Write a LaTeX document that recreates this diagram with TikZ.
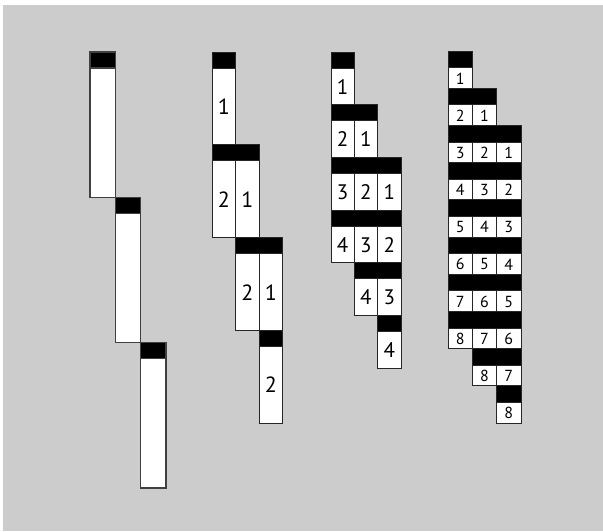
\documentclass[tikz,border=0pt]{standalone}
\usepackage{fontspec}
\setmainfont{PT Sans}
\definecolor{bggray}{HTML}{CCCCCC}
\tikzset{
  band/.style={fill=black,draw=black!85,line width=0.8pt},
  cellbox/.style={fill=white,draw=black!85,line width=0.8pt},
  lbl/.style={inner sep=0pt,anchor=center}
}
% #1 x0, #2 y0, #3 cell width, #4 row height, #5 n, #6 band height, #7 font size (0 = no labels), #8 id
\newcommand\drawgroup[8]{%
  \pgfmathtruncatemacro\nrows{#5+2}%
  \foreach \r in {1,...,\nrows}{%
    \pgfmathtruncatemacro\cmin{max(0,\r-#5)}%
    \pgfmathtruncatemacro\cmax{min(2,\r-1)}%
    \pgfmathsetmacro\ytop{#2+(\r-1)*#4}%
    \pgfmathsetmacro\ymid{\ytop+#6}%
    \pgfmathsetmacro\ybot{\ytop+#4}%
    \foreach \c in {\cmin,...,\cmax}{%
      \pgfmathsetmacro\xl{#1+\c*#3}%
      \pgfmathsetmacro\xr{#1+(\c+1)*#3}%
      \pgfmathtruncatemacro\lab{\r-\c}%
      \draw[cellbox] (\xl,\ymid) rectangle (\xr,\ybot);
      \ifdim #7pt>0pt
        \node[lbl,font=\fontsize{#7}{#7}\selectfont] (#8-\r-\c) at ({(\xl+\xr)/2},{(\ymid+\ybot)/2+0.5}) {\lab};
      \fi
    }%
    \pgfmathsetmacro\bl{#1+\cmin*#3}%
    \pgfmathsetmacro\br{#1+(\cmax+1)*#3}%
    \draw[band] (\bl,\ytop) rectangle (\br,\ymid);
  }%
}
\begin{document}
\begin{tikzpicture}[x=1pt,y=-1pt]
\useasboundingbox (0,0) rectangle (603,531);
\fill[white] (0,0) rectangle (603,531);
\fill[bggray] (3,5) rectangle (603,531);
\begingroup
\tikzset{band/.append style={line width=1.2pt,draw=black!75},cellbox/.append style={line width=1.2pt,draw=black!75}}
\drawgroup{90}{52}{25.3}{145.3}{1}{16}{0}{a}
\endgroup
\drawgroup{212}{52}{23.5}{92.75}{2}{16}{22}{b}
\drawgroup{331}{52}{23.3}{52.67}{4}{16}{21}{c}
\drawgroup{448}{51}{24.33}{37.2}{8}{16.5}{16}{d}
\end{tikzpicture}
\end{document}
